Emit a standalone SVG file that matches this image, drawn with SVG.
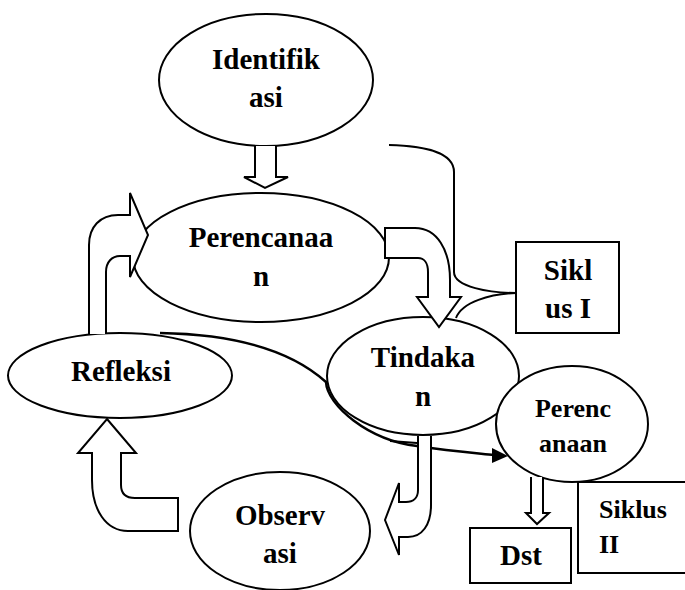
<svg xmlns="http://www.w3.org/2000/svg" width="685" height="590" viewBox="0 0 685 590">
<style>
.node{fill:#fff;stroke:#000;stroke-width:2}
.lbl{font-family:"Liberation Serif","Times New Roman",serif;font-weight:bold;font-size:29px;text-anchor:middle;fill:#000}
.sm{font-size:26px}
.harrow{fill:#fff;stroke:#000;stroke-width:2;stroke-linejoin:miter}
.line{fill:none;stroke:#000;stroke-width:2}
</style>
<rect width="685" height="590" fill="#fff"/>
<g id="identifikasi">
<ellipse class="node" cx="266" cy="80" rx="107" ry="66"/>
<text class="lbl" x="266" y="69">Identifik</text>
<text class="lbl" x="266" y="107">asi</text>
</g>
<g id="perencanaan">
<ellipse class="node" cx="261" cy="257.5" rx="128" ry="64.5"/>
<text class="lbl" x="261" y="247">Perencanaa</text>
<text class="lbl" x="261" y="286">n</text>
</g>
<g id="refleksi">
<ellipse class="node" cx="120" cy="375.5" rx="112" ry="42.5"/>
<text class="lbl" x="121" y="381">Refleksi</text>
</g>
<g id="tindakan">
<ellipse class="node" cx="423" cy="376" rx="96" ry="59"/>
<text class="lbl" x="423" y="367">Tindaka</text>
<text class="lbl" x="423" y="406">n</text>
</g>
<g id="observasi">
<ellipse class="node" cx="280" cy="531" rx="90" ry="59"/>
<text class="lbl" x="280" y="525">Observ</text>
<text class="lbl" x="280" y="563">asi</text>
</g>
<g id="siklus1">
<rect class="node" x="516" y="242" width="103" height="91"/>
<text class="lbl" x="568" y="280">Sikl</text>
<text class="lbl" x="568" y="318">us I</text>
</g>
<g id="perencanaan2">
<ellipse class="node" cx="572" cy="424" rx="76" ry="58"/>
<text class="lbl sm" x="573" y="417">Perenc</text>
<text class="lbl sm" x="573" y="452">anaan</text>
</g>
<g id="siklus2">
<rect class="node" x="578" y="482" width="120" height="91"/>
<text class="lbl sm" x="599" y="518" style="text-anchor:start">Siklus</text>
<text class="lbl sm" x="599" y="553" style="text-anchor:start">II</text>
</g>
<g id="dst">
<rect class="node" x="470" y="528" width="101" height="55"/>
<text class="lbl" x="521" y="565">Dst</text>
</g>
<g id="connectors">
<path class="line" d="M389,145 C425,146 454,152 454,172 V272 C454,287 490,293 516,293 C490,294 462,302 456,318"/>
<path class="line" style="stroke-width:2.5" d="M160,333 C220,334 285,345 326,382 C327,405 368,440 417,446 C450,451 475,453 494,455"/>
<polygon points="492,448 508,456 492,463" fill="#000"/>
<line class="line" x1="390" y1="441" x2="417" y2="443"/>
<path class="harrow" d="M255,146 V177 H244 L265,188 L288,177 H276 V146"/>
<path class="harrow" d="M385,228 H415 C437,228 450,250 450,280 V297 H461 L439,327 L417,297 H428 V272 C428,263 424,258 418,258 H385 Z"/>
<path class="harrow" d="M89,334 V245 C89,227 100,215 118,215 H130 V193 L148,235 L130,277 V256 H120 C112,256 106,262 106,272 V334"/>
<path class="harrow" d="M107,419 L136,453 H121 V485 C121,494 126,498 135,498 H178 V531 H128 C106,531 92,510 92,480 V453 H78 Z"/>
<path class="harrow" d="M418,436 V490 C418,498 413,502 406,502 H399 V483 L385,520 L399,555 V537 H408 C422,537 431,525 431,505 V436"/>
<path class="harrow" d="M531,477 V513 H526 L537,524 L549,513 H543 V477"/>
</g>
</svg>
